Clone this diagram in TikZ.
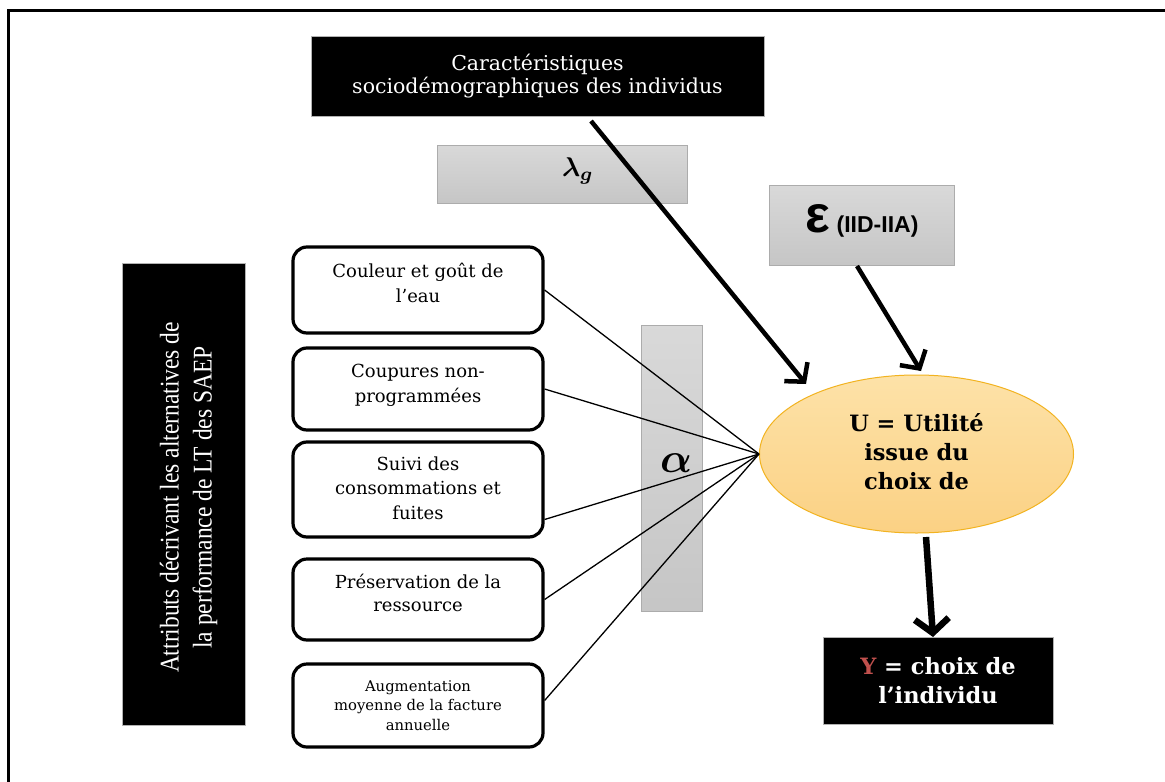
\documentclass[tikz,border=0pt]{standalone}
\usepackage{fontspec}
\setmainfont{DejaVu Serif}
\newfontfamily\lserif{Liberation Serif}
\newfontfamily\lsans{Liberation Sans}
\usepackage{bm}
\usetikzlibrary{arrows.meta,calc,shapes.geometric}
\definecolor{yred}{HTML}{C0504D}
\definecolor{ellfill}{HTML}{FBD184}
\definecolor{ellfilltop}{HTML}{FDE2A8}
\definecolor{ellline}{HTML}{F2B320}
\tikzset{
  blackbox/.style={draw=gray!60, line width=0.8pt, fill=black, text=white, align=center, inner sep=0pt},
  greybox/.style={draw=gray!65, line width=0.8pt, top color=gray!30, bottom color=gray!45, inner sep=0pt},
  attrbox/.style={draw=black, line width=3.2pt, rounded corners=14pt, minimum width=250pt, fill=white, align=center, inner sep=0pt},
  thinline/.style={line width=1.3pt},
  bigarrow/.style={line width=4.5pt, -{Straight Barb[length=13pt,width=30pt]}}
}
\begin{document}
\begin{tikzpicture}[x=1pt,y=-1pt]
\useasboundingbox (0,0) rectangle (1165,782);
\fill[white] (0,0) rectangle (1165,782);
% outer frame
\coordinate (fbl) at (8.5,800);
\coordinate (ftl) at (8.5,10.5);
\coordinate (ftr) at (1185,10.5);
\draw[line width=3.5pt] (fbl) -- (ftl) -- (ftr);

% top box
\node[blackbox, minimum width=453pt, minimum height=80pt, font=\fontsize{20.5}{23.5}\selectfont] (top) at (537.5,76)
  {Caractéristiques\\ sociodémographiques des individus};
% lambda box
\node[greybox, minimum width=250pt, minimum height=58pt] (lam) at (562,174) {};
\node (lamt) at (578,171) {\scalebox{2.7}{$\bm{\lambda_g}$}};
% epsilon box
\node[greybox, minimum width=185pt, minimum height=80pt] (eps) at (861.5,225) {};
\node (epst) at (862,221) {\lsans\bfseries\fontsize{52}{52}\selectfont ε\fontsize{23}{26}\selectfont\ (IID-IIA)};
% left vertical box
\node[blackbox, minimum width=123pt, minimum height=462pt] (left) at (183.5,494) {};
\node[rotate=90, text=white] (leftt) at (188.5,497.5)
  {\scalebox{0.87}[1]{\lserif\fontsize{27}{33}\selectfont\begin{tabular}{@{}c@{}}Attributs décrivant les alternatives de\\ la performance de LT des SAEP\end{tabular}}};
% attribute boxes
\node[attrbox, minimum height=86pt] (b1) at (418,290) {};
\node (b1t) at (418,285) {\fontsize{18}{24.5}\selectfont\begin{tabular}{@{}c@{}}Couleur et goût de\\ l’eau\end{tabular}};
\node[attrbox, minimum height=82pt] (b2) at (418,389) {};
\node (b2t) at (418,385) {\fontsize{18}{24.5}\selectfont\begin{tabular}{@{}c@{}}Coupures non-\\ programmées\end{tabular}};
\node[attrbox, minimum height=95pt] (b3) at (418,489.5) {};
\node (b3t) at (418,490) {\fontsize{18}{24.5}\selectfont\begin{tabular}{@{}c@{}}Suivi des\\ consommations et\\ fuites\end{tabular}};
\node[attrbox, minimum height=81pt] (b4) at (418,599.5) {};
\node (b4t) at (418,595.5) {\fontsize{18}{23.5}\selectfont\begin{tabular}{@{}c@{}}Préservation de la\\ ressource\end{tabular}};
\node[attrbox, minimum height=83pt] (b5) at (418,705.5) {};
\node (b5t) at (418,707) {\fontsize{14.8}{19.5}\selectfont\begin{tabular}{@{}c@{}}Augmentation\\ moyenne de la facture\\ annuelle\end{tabular}};
% alpha bar
\node[greybox, minimum width=61pt, minimum height=286pt] (alpha) at (671.5,468) {};
\node (alphat) at (676,463) {\scalebox{4.2}{$\bm{\alpha}$}};
% ellipse
\node[ellipse, draw=ellline, line width=1pt, top color=ellfilltop, bottom color=ellfill,
      minimum width=314pt, minimum height=158pt, inner sep=0pt] (ell) at (916.5,454) {};
\node[align=center, font=\bfseries\fontsize{22.5}{29}\selectfont] (ellt) at (916.5,452) {U = Utilité\\ issue du\\ choix de};
% Y box
\node[blackbox, minimum width=230pt, minimum height=87pt, font=\bfseries\fontsize{22.5}{29}\selectfont] (Y) at (938,680.5)
  {\textcolor{yred}{Y} = choix de\\ l’individu};

% thin connectors
\draw[thinline] (b1.east) -- (ell.west);
\draw[thinline] (b2.east) -- (ell.west);
\draw[thinline] ([yshift=-30pt]b3.east) -- (ell.west);
\draw[thinline] (b4.east) -- (ell.west);
\draw[thinline] ([yshift=5pt]b5.east) -- (ell.west);

% arrows
\coordinate (a1s) at (591,121);
\coordinate (a1e) at (806,384);
\draw[bigarrow] (a1s) -- (a1e);
\coordinate (a2s) at (857,266);
\coordinate (a2e) at (921,371);
\draw[bigarrow] (a2s) -- (a2e);
\coordinate (a3s) at (926,537);
\coordinate (a3e) at (933,637);
\draw[line width=6.5pt, -{Straight Barb[length=14pt,width=34pt]}] (a3s) -- (a3e);
\end{tikzpicture}
\end{document}
